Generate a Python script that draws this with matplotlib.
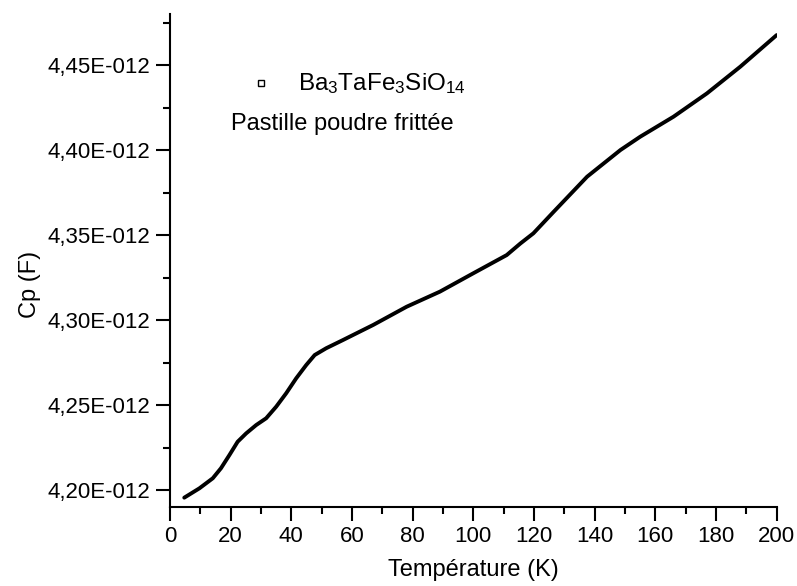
import matplotlib
matplotlib.use('Agg')
import matplotlib.pyplot as plt
from matplotlib.ticker import MultipleLocator, FuncFormatter

plt.rcParams['font.family'] = ['Liberation Sans', 'DejaVu Sans']
plt.rcParams['mathtext.fontset'] = 'custom'
plt.rcParams['mathtext.rm'] = 'Liberation Sans'
plt.rcParams['mathtext.it'] = 'Liberation Sans'
plt.rcParams['mathtext.default'] = 'regular'

# temperature (K) and capacitance (x 1e-12 F)
temperature = [4.7, 9.7, 14.1, 16.8, 19.6, 22.3, 25.1, 28.4, 31.7, 35.0, 38.3,
               41.6, 44.9, 47.7, 51.5, 57.0, 62.5, 67.0, 78.0, 89.0, 100.0,
               111.0, 115.5, 119.8, 126.5, 137.5, 148.5, 155.0, 166.0, 177.0,
               188.0, 200.0]
cp = [4.1955, 4.2010, 4.2069, 4.2128, 4.2206, 4.2284, 4.2333, 4.2382, 4.2422,
      4.2490, 4.2569, 4.2657, 4.2735, 4.2794, 4.2834, 4.2882, 4.2931, 4.2971,
      4.3078, 4.3167, 4.3275, 4.3382, 4.3450, 4.3510, 4.3637, 4.3843, 4.4000,
      4.4078, 4.4196, 4.4333, 4.4490, 4.4676]

fig = plt.figure(figsize=(7.97, 5.86), dpi=100)
ax = fig.add_axes([0.2133, 0.1348, 0.7612, 0.8413])

ax.plot(temperature, [v * 1e-12 for v in cp], color='black', lw=2.8,
        solid_capstyle='round', solid_joinstyle='round')

ax.set_xlim(0, 200)
ax.set_ylim(4.19e-12, 4.48e-12)

ax.spines['top'].set_visible(False)
ax.spines['right'].set_visible(False)
ax.spines['left'].set_linewidth(1.5)
ax.spines['bottom'].set_linewidth(1.5)

ax.xaxis.set_major_locator(MultipleLocator(20))
ax.xaxis.set_minor_locator(MultipleLocator(10))
ax.yaxis.set_major_locator(MultipleLocator(0.05e-12))
ax.yaxis.set_minor_locator(MultipleLocator(0.025e-12))


def fmt(v, pos):
    return ('%.2fE-012' % (v * 1e12)).replace('.', ',')


ax.yaxis.set_major_formatter(FuncFormatter(fmt))
ax.tick_params(which='major', direction='out', length=10, width=1.5,
               labelsize=16, pad=4)
ax.tick_params(which='minor', direction='out', length=5, width=1.5)

ax.set_xlabel('Température (K)', fontsize=17, labelpad=8)
ax.set_ylabel('Cp (F)', fontsize=17)
ax.yaxis.set_label_coords(-0.2125, 0.452)

# legend-like annotation
fig.lines.append(plt.Line2D([260.7 / 797], [1 - 82.7 / 586], marker='s', ms=4.5,
                            mfc='white', mec='black', mew=1, ls='none',
                            transform=fig.transFigure))
fig.text(298 / 797, 1 - 84 / 586, r'Ba$_3$TaFe$_3$SiO$_{14}$', fontsize=17.5,
         va='center', ha='left')
fig.text(231 / 797, 1 - 124 / 586, 'Pastille poudre frittée', fontsize=17,
         va='center', ha='left')

fig.savefig('out.png', dpi=100)
